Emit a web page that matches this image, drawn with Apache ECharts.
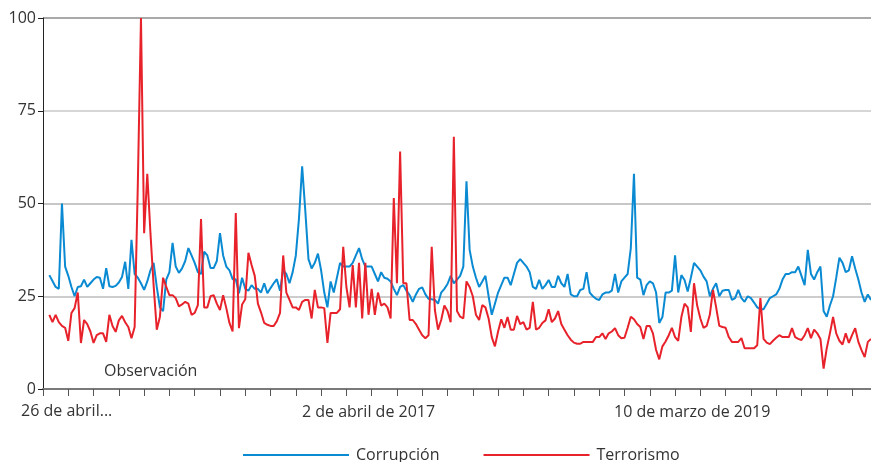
<!DOCTYPE html>
<html>
<head>
<meta charset="utf-8">
<script src="https://cdn.jsdelivr.net/npm/echarts@6/dist/echarts.min.js"></script>
<style>
html,body{margin:0;padding:0;background:#fff;}
#chart{width:871px;height:462px;}
</style>
</head>
<body>
<div id="chart"></div>
<script>
// Weekly search interest (0-100), starting 26 April 2015
const corrupcion = [
30.7,29.1,27.5,27,50,33,30.5,27.5,25,27.5,
27.7,29.5,27.5,28.5,29.5,30.2,30,27,32.6,27.7,
27.5,27.8,28.7,30.2,34.3,27,40.2,31,30,28.5,
26.7,29,32,34,27.5,22,21,29.5,31.5,39.4,
33,31.3,32.5,34.5,38,36,34,31.5,31,37,
36,32.6,32.6,34.5,42,36,33,32,29.6,29.6,
25.8,30,27,26.5,28,27,27,26,28.5,25.8,
27.2,28.5,29.6,26.5,32,31,28.5,31.5,36,46,
60,48,35,32.5,34,36.5,32,26,22,29,
26,30,34,33,33,33,34,36,38,35,
33,33,33,31,29,31.5,30,29.7,29,27,
25.3,27.5,28,26.5,25.3,23.5,25.5,27,27.4,25.5,
24.3,24.2,24,23,26,27,28.3,30.5,28.5,29.5,
30.5,33,56,37.5,33,30,27.5,29,30.5,25,
20,23,26,28,30,30,28,31,34,35,
34,33,31.5,27.5,27,29.4,27,28,29.4,27.5,
27.5,30.5,28.5,27.5,31,25.5,25,25,26.7,27,
31.5,26,25,24.3,24,25.5,26,26,26.5,31,
26,29,30,31,38,58,30,29.5,25.3,28,
29,28.5,26,17.8,19.4,26,26,26.5,36,26,
30.7,29.4,26.3,30,34,33,32,30.3,29,25,
27,28.5,25,26.5,26.7,26.7,24,24.5,26.7,24.5,
23.5,25,24.5,23.3,22,21.5,21.5,23,24.5,25,
25.5,27,29.5,31,31,31.5,31.5,33,30.5,28,
37.5,31,29.5,31.5,33,21,19.5,22.5,25,30,
35.4,34,31.5,32,35.8,32.5,29.5,26,23.5,25.5,24
];
const terrorismo = [
20,18,20,18,17,16.5,13,20.5,21.8,26,
12.4,18.6,17.5,15.5,12.4,14.5,15,15,12.7,20,
17,15.4,18.5,19.7,18,16.7,13.7,16.7,55,100,
42,58,42,28,16,19.5,30,27.5,25.3,25.3,
24.5,22.3,22.8,23.5,23,20,20.5,22.6,45.8,22,
22,25,25.3,23,21.3,25.3,21.8,17.8,15.5,47.4,
16.4,22.8,24.2,36.7,33.4,30.5,23,20.6,17.8,17.3,
17,17,18.3,20.5,36,26,24,22,22,21.3,
23.5,24,24,19,26.7,22,22,21.8,12.4,20.5,
20.5,20.5,21.5,38.3,27.5,22,33.4,22,34,19,
34,20,27,20,26,22.5,23,22,19,51.5,
28.5,64,28.5,28.5,18.6,18.6,17.5,16,14.5,13.7,
14.5,38.3,21.3,16,18.6,22.5,21,18,68,21,
19.5,19,29,27.5,25,20,18.6,22.6,22,19,
14,11.5,15.5,18.8,16.5,19.4,16,16,19.7,17.5,
18,16,16.5,23.5,16,16.5,17.8,18.5,21.5,18,
19,21,17.5,16,14.5,13.3,12.5,12.2,12.2,12.7,
12.7,12.7,12.7,14,14,15,13.5,15,15.5,16.4,
14.5,13.7,13.8,16.5,19.5,18.8,17.5,16.7,13.5,17,
17,15,10.5,8,11.5,12.8,14.5,16.5,14,13,
19.4,23,22,15.4,28.5,22.5,19,16.5,17,20,
26.7,22,17,16.7,16.5,14,12.7,12.7,12.7,13.7,
11,11,11,11,11.8,24.5,13.5,12.5,12.1,13,
13.8,14.5,14,14,14,16.4,14,13.5,13.2,14.5,
16.4,13.7,16,15,13.5,5.5,11,15,19.4,15,
13,12,15,12.4,14.5,16.4,12.7,10.5,8.6,12.7,13.5
];
// axis labels and the weeks (data index) under which they are printed
const tickLabels = ['26 de abril...', '2 de abril de 2017', '10 de marzo de 2019'];
const tickWeeks = [0, 101, 202];
const yTicks = [0, 25, 50, 75, 100];
const seriesNames = ['Corrupción', 'Terrorismo'];

const PAD = 2; // empty weeks before the first observation
const start = new Date(2015, 3, 26);
const weeks = corrupcion.map((_, i) => {
  const d = new Date(start.getTime() + i * 7 * 86400000);
  return d.toISOString().slice(0, 10);
});
const categories = Array(PAD).fill('').concat(weeks);
const padData = arr => Array(PAD).fill('-').concat(arr);
// the first label sits left of the plot edge, drawn as a free text; the others on the axis
const labelAt = {};
tickWeeks.forEach((w, k) => { if (k > 0) labelAt[w + PAD] = k; });

const chart = echarts.init(document.getElementById('chart'), null, {renderer: 'canvas'});
const FONT = '"Open Sans", sans-serif';
const FS = 16;
chart.setOption({
  animation: false,
  textStyle: {fontFamily: FONT},
  grid: {left: 43, right: 0, top: 18, bottom: 73, containLabel: false},
  legend: {
    top: 442,
    left: 238,
    icon: 'rect',
    itemWidth: 106,
    itemHeight: 2,
    itemGap: 44,
    textStyle: {fontSize: FS, color: '#333', fontFamily: FONT, padding: [0, 0, 0, 2]},
    data: seriesNames
  },
  xAxis: {
    type: 'category',
    boundaryGap: false,
    data: categories,
    axisLine: {lineStyle: {color: '#7a7a7a', width: 2}},
    axisTick: {
      show: true,
      interval: (idx) => idx % 8 === 0,
      length: 7,
      lineStyle: {color: '#555', width: 1}
    },
    axisLabel: {
      interval: (idx) => labelAt[idx] !== undefined,
      margin: 15,
      color: '#333',
      fontSize: FS,
      fontFamily: FONT,
      formatter: (v, idx) => {
        const k = labelAt[idx];
        if (k === undefined) return '';
        if (k === 2) return '{c|' + tickLabels[2] + '}';
        return tickLabels[k];
      },
      rich: {
        c: {padding: [0, 0, 0, 9], fontSize: FS, color: '#333', fontFamily: FONT}
      }
    },
    splitLine: {show: false}
  },
  yAxis: {
    type: 'value',
    min: yTicks[0],
    max: yTicks[yTicks.length - 1],
    interval: 25,
    axisLine: {show: true, lineStyle: {color: '#222', width: 1}},
    axisTick: {show: true, length: 5, lineStyle: {color: '#222'}},
    axisLabel: {color: '#333', fontSize: FS, margin: 7, fontFamily: FONT},
    splitLine: {
      show: true,
      lineStyle: {color: ['#999', '#bdbdbd', '#b5b5b5', '#c8c8c8', '#8c8c8c'], width: 1.5}
    }
  },
  graphic: [
    {
      type: 'text',
      left: 104,
      top: 363,
      style: {text: 'Observación', fontSize: FS, fill: '#333', fontFamily: FONT}
    },
    {
      type: 'text',
      x: 21,
      y: 411,
      style: {text: tickLabels[0], fontSize: FS, fill: '#333', fontFamily: FONT, verticalAlign: 'middle', align: 'left'}
    }
  ],
  series: [
    {
      name: seriesNames[0],
      type: 'line',
      data: padData(corrupcion),
      symbol: 'none',
      lineStyle: {color: '#0a8ad2', width: 2},
      itemStyle: {color: '#0a8ad2'},
      connectNulls: false
    },
    {
      name: seriesNames[1],
      type: 'line',
      data: padData(terrorismo),
      symbol: 'none',
      lineStyle: {color: '#e8222b', width: 2},
      itemStyle: {color: '#e8222b'},
      connectNulls: false
    }
  ]
});
</script>
</body>
</html>
